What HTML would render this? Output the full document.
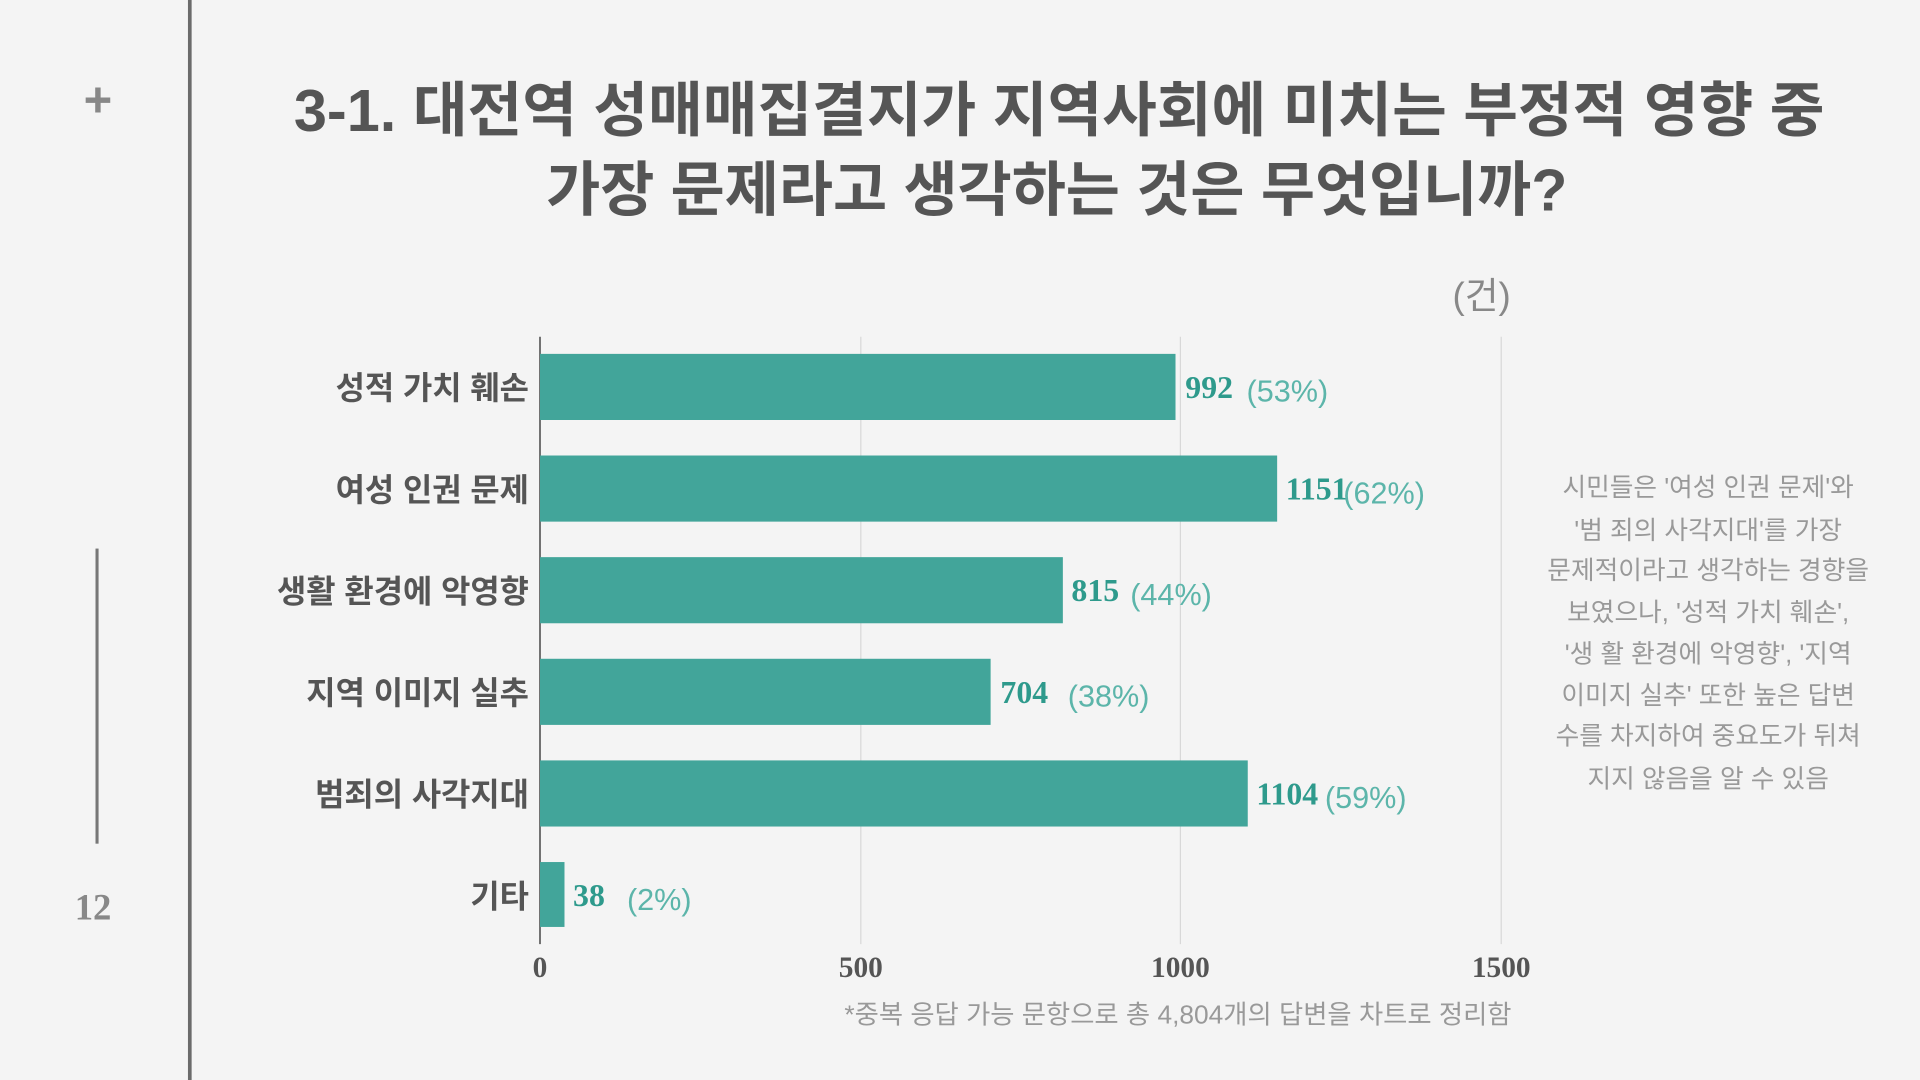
<!DOCTYPE html>
<html><head><meta charset="utf-8"><style>
html,body{margin:0;padding:0;background:#f4f4f4;}
svg{display:block;}
.k{font-family:"Liberation Sans","Noto Sans CJK KR",sans-serif;}
.n{font-family:"Liberation Serif","Noto Serif CJK SC",serif;font-weight:700;}
</style></head><body>
<svg width="1920" height="1080" viewBox="0 0 1568 882" xmlns="http://www.w3.org/2000/svg">
<rect width="1568" height="882" fill="#f4f4f4"/>
<rect x="153.5" y="0" width="3" height="882" fill="#6b6b6b"/>
<text x="80" y="95" text-anchor="middle" class="k" font-size="40" font-weight="700" fill="#888">+</text>
<rect x="78" y="448" width="2.5" height="241" fill="#777"/>
<text x="76" y="751" text-anchor="middle" class="n" font-size="30" font-weight="400" fill="#888">12</text>
<text x="865" y="107" text-anchor="middle" class="k" font-size="48.6" font-weight="700" fill="#555" textLength="1250" lengthAdjust="spacingAndGlyphs">3-1. 대전역 성매매집결지가 지역사회에 미치는 부정적 영향 중</text>
<text x="863" y="172" text-anchor="middle" class="k" font-size="48.6" font-weight="700" fill="#555" textLength="834" lengthAdjust="spacingAndGlyphs">가장 문제라고 생각하는 것은 무엇입니까?</text>
<text x="1210" y="252" text-anchor="middle" class="k" font-size="30" fill="#888">(건)</text>
<g stroke="#d8d8d8" stroke-width="1">
<line x1="703" y1="275" x2="703" y2="771"/><line x1="964" y1="275" x2="964" y2="771"/><line x1="1226" y1="275" x2="1226" y2="771"/>
</g>
<line x1="441" y1="275" x2="441" y2="771" stroke="#666" stroke-width="1.5"/>
<g fill="#42a59a">
<rect x="441" y="289" width="519" height="54"/>
<rect x="441" y="372" width="602" height="54"/>
<rect x="441" y="455" width="427" height="54"/>
<rect x="441" y="538" width="368" height="54"/>
<rect x="441" y="621" width="578" height="54"/>
<rect x="441" y="704" width="20" height="53"/>
</g>
<g class="k" font-size="26" font-weight="700" fill="#555" text-anchor="end">
<text x="432" y="326">성적 가치 훼손</text>
<text x="432" y="409">여성 인권 문제</text>
<text x="432" y="492">생활 환경에 악영향</text>
<text x="432" y="575">지역 이미지 실추</text>
<text x="432" y="658">범죄의 사각지대</text>
<text x="432" y="741">기타</text>
</g>
<g class="n" font-size="26" fill="#2e9a8c">
<text x="968" y="325">992</text>
<text x="1050" y="408">1151</text>
<text x="875" y="491">815</text>
<text x="817" y="574">704</text>
<text x="1026" y="657">1104</text>
<text x="468" y="740">38</text>
</g>
<g class="k" font-size="25" fill="#5cb5aa">
<text x="1018" y="328">(53%)</text>
<text x="1097" y="411">(62%)</text>
<text x="923" y="494">(44%)</text>
<text x="872" y="577">(38%)</text>
<text x="1082" y="660">(59%)</text>
<text x="512" y="743">(2%)</text>
</g>
<g class="n" font-size="24" fill="#555" text-anchor="middle">
<text x="441" y="798">0</text><text x="703" y="798">500</text><text x="964" y="798">1000</text><text x="1226" y="798">1500</text>
</g>
<text x="962" y="836" text-anchor="middle" class="k" font-size="21.5" fill="#999">*중복 응답 가능 문항으로 총 4,804개의 답변을 차트로 정리함</text>
<g class="k" font-size="21" fill="#999" text-anchor="middle">
<text x="1395" y="405">시민들은 '여성 인권 문제'와</text>
<text x="1395" y="440">'범 죄의 사각지대'를 가장</text>
<text x="1395" y="473">문제적이라고 생각하는 경향을</text>
<text x="1395" y="507">보였으나, '성적 가치 훼손',</text>
<text x="1395" y="541">'생 활 환경에 악영향', '지역</text>
<text x="1395" y="575">이미지 실추' 또한 높은 답변</text>
<text x="1395" y="608">수를 차지하여 중요도가 뒤쳐</text>
<text x="1395" y="643">지지 않음을 알 수 있음</text>
</g>
</svg>
</body></html>
